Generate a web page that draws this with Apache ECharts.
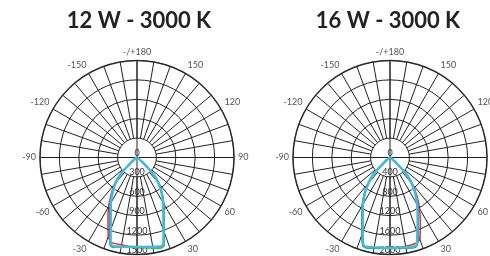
<!DOCTYPE html>
<html>
<head>
<meta charset="utf-8">
<script src="https://cdn.jsdelivr.net/npm/echarts/dist/echarts.min.js"></script>
<style>
  html, body { margin: 0; padding: 0; background: #fff; }
  #chart { width: 490px; height: 256px; }
</style>
</head>
<body>
<div id="chart"></div>
<script>
// angles in degrees, 0 = straight down, positive to the right
const angles = [-90, -80, -70, -60, -55, -50, -45, -40, -35, -30, -25, -20, -17, -15, -10, -5, 0,
  5, 10, 15, 17, 20, 25, 30, 35, 40, 45, 50, 55, 60, 70, 80, 90];

// 12 W - 3000 K (cd)
const red12 = [0, 0, 0, 10, 30, 115, 360, 540, 700, 880, 1060, 1300, 1370, 1375, 1370, 1385, 1392,
  1395, 1410, 1440, 1420, 1220, 985, 825, 675, 525, 350, 110, 30, 10, 0, 0, 0];
const green12 = [0, 0, 0, 10, 30, 110, 350, 525, 680, 835, 990, 1235, 1420, 1440, 1410, 1395, 1395,
  1400, 1430, 1450, 1430, 1230, 990, 830, 680, 525, 350, 110, 30, 10, 0, 0, 0];
const blue12 = [0, 0, 0, 10, 28, 108, 345, 520, 670, 825, 985, 1225, 1410, 1430, 1405, 1390, 1388,
  1390, 1405, 1430, 1410, 1210, 975, 815, 665, 515, 345, 108, 28, 10, 0, 0, 0];
const cyan12 = [0, 0, 0, 10, 28, 105, 340, 510, 655, 810, 960, 1190, 1400, 1420, 1400, 1385, 1385,
  1388, 1400, 1425, 1400, 1200, 965, 805, 660, 510, 340, 105, 28, 10, 0, 0, 0];

// 16 W - 3000 K (cd)
const red16 = [0, 0, 0, 12, 40, 145, 460, 690, 900, 1100, 1320, 1650, 1880, 1910, 1885, 1872, 1870,
  1868, 1860, 1850, 1840, 1800, 1480, 1220, 970, 720, 480, 155, 42, 12, 0, 0, 0];
const green16 = [0, 0, 0, 12, 40, 150, 470, 700, 915, 1135, 1355, 1680, 1910, 1930, 1895, 1878, 1875,
  1878, 1895, 1925, 1905, 1700, 1385, 1150, 930, 705, 470, 150, 40, 12, 0, 0, 0];
const blue16 = [0, 0, 0, 12, 42, 155, 480, 715, 930, 1150, 1370, 1690, 1900, 1920, 1888, 1872, 1870,
  1872, 1888, 1915, 1895, 1690, 1375, 1145, 925, 700, 468, 150, 40, 12, 0, 0, 0];
const cyan16 = [0, 0, 0, 12, 38, 145, 460, 690, 900, 1120, 1340, 1650, 1880, 1905, 1880, 1866, 1865,
  1866, 1880, 1900, 1880, 1650, 1350, 1120, 905, 690, 460, 145, 38, 12, 0, 0, 0];

const lineColors = ['#e8302a', '#4cb848', '#2456a4', '#3fbde0'];
const lineWidths = [1.5, 1.5, 1.5, 2.5];

const charts = [
  { title: '12 W - 3000 K', tx: 139, cx: 137, max: 1500, step: 300, series: [red12, green12, blue12, cyan12] },
  { title: '16 W - 3000 K', tx: 388, cx: 390, max: 2000, step: 400, series: [red16, green16, blue16, cyan16] },
];

const cy = 157.5;
const R = 97;
const labelFont = { fontFamily: 'Lato', fontSize: 9 };

const title = [], polar = [], angleAxis = [], radiusAxis = [], series = [];

charts.forEach((c, i) => {
  title.push({
    text: c.title,
    left: c.tx,
    top: 10,
    padding: 0,
    textAlign: 'center',
    textStyle: { fontFamily: 'Lato', fontSize: 22, fontWeight: 'bold', color: '#222' },
  });

  // data polar: rings, cross lines, outer circle
  polar.push({ center: [c.cx, cy], radius: [0, R] });
  angleAxis.push({
    polarIndex: 2 * i,
    type: 'value', min: 0, max: 360, interval: 90,
    startAngle: 270, clockwise: false,
    axisLine: { show: true, lineStyle: { color: '#555', width: 1.5 } },
    axisTick: { show: false },
    axisLabel: { show: false },
    splitLine: { show: true, lineStyle: { color: '#222', width: 1 } },
  });
  radiusAxis.push({
    polarIndex: 2 * i,
    type: 'value', min: 0, max: c.max, interval: c.step,
    axisLine: { show: false },
    axisTick: { show: false },
    axisLabel: {
      show: true, margin: 0, align: 'center', verticalAlign: 'bottom',
      color: '#333', ...labelFont,
      formatter: (v) => String(v),
    },
    splitLine: { show: true, lineStyle: { color: '#222', width: 1 } },
    z: 5,
  });

  // grid polar: 10 degree spokes from the first ring outward, angle labels
  polar.push({ center: [c.cx, cy], radius: [R * c.step / c.max, R] });
  angleAxis.push({
    polarIndex: 2 * i + 1,
    type: 'value', min: -180, max: 180, interval: 10,
    startAngle: 90, clockwise: false,
    axisLine: { show: false },
    axisTick: { show: false },
    axisLabel: {
      show: true, margin: 4, color: '#555', ...labelFont,
      formatter: (v) => {
        if (v === -180) return '-/+180';
        if (v === 180 || v % 30 !== 0) return '';
        return String(v);
      },
    },
    splitLine: { show: true, lineStyle: { color: '#222', width: 1 } },
  });
  radiusAxis.push({ polarIndex: 2 * i + 1, type: 'value', show: false });

  c.series.forEach((vals, k) => {
    series.push({
      type: 'line',
      coordinateSystem: 'polar',
      polarIndex: 2 * i,
      data: vals.map((v, j) => [v, angles[j] < 0 ? angles[j] + 360 : angles[j]]),
      symbol: 'none',
      smooth: 0.2,
      lineStyle: { color: lineColors[k], width: lineWidths[k] },
      z: 3 + k,
      silent: true,
    });
  });
});

const chart = echarts.init(document.getElementById('chart'));
chart.setOption({
  animation: false,
  backgroundColor: '#fff',
  title, polar, angleAxis, radiusAxis, series,
});
</script>
</body>
</html>
